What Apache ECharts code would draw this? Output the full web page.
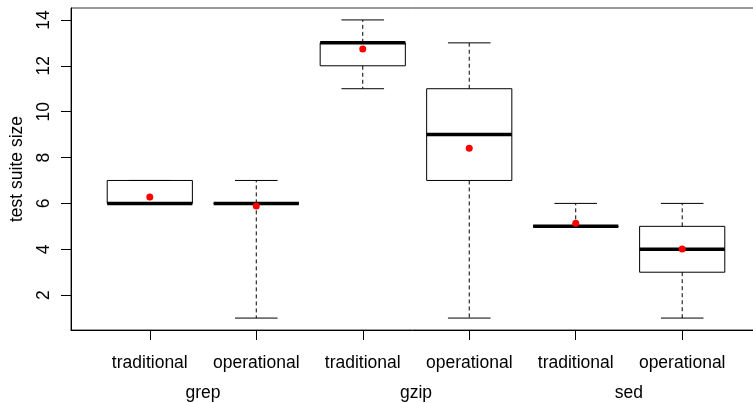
<!DOCTYPE html>
<html>
<head>
<meta charset="utf-8">
<script src="https://cdn.jsdelivr.net/npm/echarts@6/dist/echarts.min.js"></script>
<style>
html,body{margin:0;padding:0;background:#fff;}
#chart{width:753px;height:403px;}
</style>
</head>
<body>
<div id="chart"></div>
<script>
const groups = ['grep', 'gzip', 'sed'];
const categories = ['traditional', 'operational', 'traditional', 'operational', 'traditional', 'operational'];
const lowWhisker = [6, 1, 11, 1, 5, 1];
const q1 = [6, 6, 12, 7, 5, 3];
const median = [6, 6, 13, 9, 5, 4];
const q3 = [7, 6, 13, 11, 5, 5];
const highWhisker = [7, 7, 14, 13, 6, 6];
const means = [6.28, 5.89, 12.73, 8.4, 5.13, 4.01];
const yTicks = [2, 4, 6, 8, 10, 12, 14];

const FONT = '"Liberation Sans", Arial, sans-serif';
const catPos = categories.map((c, i) => i + 1);
const groupPos = groups.map((g, i) => 2 * i + 1.5);

const boxData = categories.map((c, i) => [catPos[i], lowWhisker[i], q1[i], median[i], q3[i], highWhisker[i]]);
const meanData = categories.map((c, i) => [catPos[i], means[i]]);

function renderBox(params, api) {
  const x = api.value(0);
  const lo = api.value(1), b1 = api.value(2), md = api.value(3), b3 = api.value(4), hi = api.value(5);
  const bw = 0.4, sw = 0.2;
  const P = (xx, yy) => api.coord([xx, yy]);
  const children = [];
  const dash = { stroke: '#000', lineWidth: 1, lineDash: [4, 3] };
  const solid = { stroke: '#000', lineWidth: 1 };
  if (hi > b3) {
    const a = P(x, b3), b = P(x, hi);
    children.push({ type: 'line', shape: { x1: a[0], y1: a[1], x2: b[0], y2: b[1] }, style: dash });
  }
  if (lo < b1) {
    const a = P(x, b1), b = P(x, lo);
    children.push({ type: 'line', shape: { x1: a[0], y1: a[1], x2: b[0], y2: b[1] }, style: dash });
  }
  [hi, lo].forEach(v => {
    const a = P(x - sw, v), b = P(x + sw, v);
    children.push({ type: 'line', shape: { x1: a[0], y1: a[1], x2: b[0], y2: b[1] }, style: solid });
  });
  const tl = P(x - bw, b3), br = P(x + bw, b1);
  children.push({ type: 'rect', shape: { x: tl[0], y: tl[1], width: br[0] - tl[0], height: br[1] - tl[1] }, style: { fill: 'none', stroke: '#000', lineWidth: 1 } });
  const m1 = P(x - bw, md), m2 = P(x + bw, md);
  children.push({ type: 'line', shape: { x1: m1[0], y1: m1[1], x2: m2[0], y2: m2[1] }, style: { stroke: '#000', lineWidth: 3.5 } });
  return { type: 'group', children };
}

const chart = echarts.init(document.getElementById('chart'), null, { renderer: 'canvas' });
chart.setOption({
  animation: false,
  backgroundColor: '#fff',
  textStyle: { fontFamily: FONT },
  grid: { left: 71, top: 8, bottom: 73, right: -8, outerBoundsMode: 'none', containLabel: false,
    show: true, borderColor: '#333', borderWidth: 1, backgroundColor: 'transparent' },
  xAxis: [
    {
      type: 'value', min: 0.26, max: 6.74, position: 'bottom',
      axisLine: { show: true, onZero: false, lineStyle: { color: '#000', width: 1 } },
      axisTick: { show: true, length: 10, inside: false, customValues: catPos, lineStyle: { color: '#000' } },
      axisLabel: { show: true, customValues: catPos, margin: 24, fontSize: 17.5, color: '#000', fontFamily: FONT,
        formatter: v => categories[Math.round(v) - 1] },
      splitLine: { show: false }
    },
    {
      type: 'value', min: 0.26, max: 6.74, position: 'bottom',
      axisLine: { show: false }, axisTick: { show: false },
      axisLabel: { show: true, customValues: groupPos, margin: 54, fontSize: 17.5, color: '#000', fontFamily: FONT,
        formatter: v => groups[Math.round((v - 1.5) / 2)] },
      splitLine: { show: false }
    }
  ],
  yAxis: {
    type: 'value', min: 0.48, max: 14.52,
    name: 'test suite size', nameLocation: 'middle', nameRotate: 90, nameGap: 45,
    nameTextStyle: { fontSize: 17.5, color: '#000', fontFamily: FONT },
    axisLine: { show: true, onZero: false, lineStyle: { color: '#000', width: 1 } },
    axisTick: { show: true, length: 10, customValues: yTicks, lineStyle: { color: '#000' } },
    axisLabel: { show: true, customValues: yTicks, rotate: 90, margin: 18, fontSize: 17.5, color: '#000', fontFamily: FONT },
    splitLine: { show: false }
  },
  series: [
    {
      type: 'custom', xAxisIndex: 0, yAxisIndex: 0, renderItem: renderBox,
      encode: { x: 0, y: [1, 2, 3, 4, 5] }, data: boxData, z: 2, silent: true
    },
    {
      type: 'scatter', xAxisIndex: 0, yAxisIndex: 0, data: meanData, symbol: 'circle', symbolSize: 7,
      itemStyle: { color: '#ff0000', opacity: 1 }, z: 5, silent: true
    }
  ]
});
</script>
</body>
</html>
